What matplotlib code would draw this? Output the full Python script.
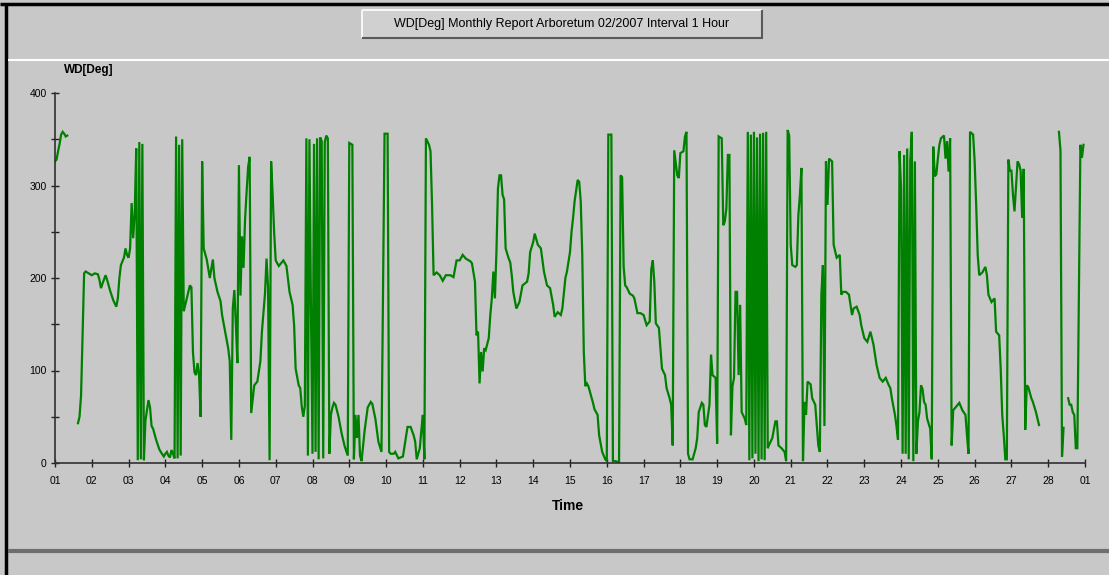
import numpy as np
import matplotlib
matplotlib.use("Agg")
import matplotlib.pyplot as plt
from matplotlib.patches import Rectangle
from matplotlib.lines import Line2D

nan = np.nan

# hour offset from 01/02/2007 00:00 and wind direction in degrees (nan = no data)
hours = [0, 1, 2, 3, 4, 5, 6, 7, 8, 9,
         15, 16, 17, 18, 19, 20, 22, 24, 26, 28, 29, 30, 31, 33, 34, 36, 38, 40, 41, 42,
         43, 45, 46, 47, 48, 49, 50, 51, 52, 53, 54, 55, 56, 57, 58, 59, 61, 62, 63, 64,
         66, 68, 69, 71, 72, 73, 74, 75, 76, 77, 78, 79, 80, 81, 82, 83, 84, 86, 88, 89,
         90, 91, 92, 93, 94, 95, 96, 97, 99, 101, 103, 104, 106, 108, 109, 111, 113, 114, 115, 116,
         117, 118, 119, 120, 121, 122, 123, 124, 125, 126, 127, 128, 130, 132, 134, 135, 137, 138, 139, 140,
         141, 142, 143, 144, 146, 149, 151, 153, 155, 156, 157, 159, 160, 161, 162, 163, 164, 165, 166, 167,
         168, 169, 170, 171, 172, 173, 174, 175, 176, 177, 178, 179, 180, 181, 182, 183, 185, 187, 189, 191,
         192, 194, 195, 196, 197, 198, 199, 200, 202, 204, 206, 207, 209, 211, 213, 214, 215, 217, 218, 219,
         221, 222, 224, 227, 230, 232, 234, 235, 236, 238, 239, 240, 241, 242, 244, 245, 246, 247, 249, 251,
         253, 255, 258, 260, 262, 264, 266, 268, 271, 272, 274, 275, 276, 277, 278, 279, 280, 281, 283, 284,
         285, 286, 287, 288, 289, 290, 291, 292, 293, 294, 296, 297, 298, 299, 301, 303, 305, 308, 309, 310,
         312, 313, 315, 317, 319, 321, 323, 325, 326, 328, 330, 331, 333, 334, 336, 337, 338, 339, 341, 342,
         343, 344, 345, 346, 347, 348, 349, 351, 352, 354, 355, 357, 359, 360, 361, 363, 364, 366, 368, 369,
         370, 371, 372, 373, 375, 377, 378, 380, 382, 384, 386, 388, 389, 390, 391, 392, 394, 396, 398, 399,
         401, 402, 403, 404, 405, 406, 407, 408, 410, 411, 412, 413, 414, 416, 418, 419, 420, 422, 423, 424,
         425, 427, 428, 429, 431, 432, 433, 435, 436, 437, 438, 439, 440, 441, 442, 443, 444, 445, 446, 447,
         448, 450, 451, 452, 453, 454, 455, 456, 457, 458, 459, 460, 461, 462, 463, 464, 465, 466, 468, 470,
         471, 472, 474, 476, 477, 478, 479, 480, 481, 483, 484, 485, 486, 487, 488, 489, 490, 491, 493, 494,
         496, 497, 498, 499, 500, 501, 502, 503, 504, 505, 507, 508, 510, 512, 513, 514, 516, 518, 520, 521,
         523, 525, 526, 528, 530, 532, 534, 536, 538, 540, 542, 544, 545, 546, 548, 549, 550, 551, 552, 553,
         554, 555, 556, 557, 558, 559, 560, 561, 562, 563, 564, 565, 566, 567, 568, 569, 571, 572, 573, 574,
         575, 576, 577, 578, 580, 581, 582, 583, 584, 585, 586, 587, 589, 590, 592, 594, 595, 596, 597, 599,
         600, 601, 602, 603, 605, 607, 608, 609, 611, 613, 614, 616, 617, 618, 619, 620, 621, 622, 623, 624,
         625, 626, 627, 628, 629, 630, 631, 632, 633, 634, 635, 637, 638, 640, 641, 642, 643,
         655, 656, 657, 658, 659,
         661, 662, 663, 664, 665, 666, 667, 668, 669, 670, 671]

wd_deg = [326, 328, 337, 345, 355, 358, 356, 353, 354, nan,
          43, 50, 73, 138, 205, 207, 205, 203, 205, 204, 198, 189, 194, 203, 198, 186, 176, 169, 178, 200,
          214, 222, 232, 225, 222, 232, 281, 243, 270, 340, 3, 347, 4, 345, 3, 46, 68, 60, 40, 37,
          25, 15, 12, 7, 10, 12, 8, 6, 14, 10, 5, 353, 5, 344, 8, 350, 164, 178, 192, 190,
          120, 98, 95, 108, 95, 50, 326, 232, 220, 200, 220, 200, 185, 175, 160, 142, 124, 110, 25, 167,
          187, 150, 108, 322, 181, 245, 211, 263, 293, 320, 331, 54, 84, 88, 110, 142, 183, 221, 190, 3,
          326, 290, 248, 219, 213, 219, 213, 185, 171, 149, 102, 84, 81, 61, 50, 62, 351, 8, 350, 166,
          10, 345, 12, 351, 4, 352, 348, 5, 347, 354, 351, 10, 52, 60, 65, 63, 50, 32, 18, 8,
          346, 344, 4, 52, 27, 52, 8, 2, 35, 60, 66, 64, 48, 23, 12, 185, 356, 356, 12, 10,
          10, 12, 5, 7, 39, 39, 30, 23, 4, 16, 35, 52, 4, 351, 344, 337, 279, 203, 206, 203,
          197, 203, 203, 201, 219, 219, 225, 221, 218, 216, 196, 138, 142, 86, 120, 99, 124, 122, 135, 160,
          178, 207, 178, 228, 297, 311, 311, 290, 285, 232, 221, 217, 203, 185, 167, 174, 192, 196, 205, 228,
          239, 248, 236, 232, 207, 192, 189, 171, 158, 163, 160, 167, 200, 207, 228, 250, 265, 283, 306, 304,
          283, 225, 120, 83, 86, 83, 77, 65, 58, 52, 30, 12, 4, 2, 355, 355, 2, 2, 0, 311,
          309, 212, 192, 190, 183, 181, 178, 162, 162, 160, 149, 153, 209, 219, 196, 151, 146, 102, 95, 81,
          70, 63, 19, 338, 324, 311, 308, 335, 337, 353, 358, 10, 4, 4, 16, 27, 55, 65, 63, 41,
          39, 63, 117, 95, 92, 21, 353, 351, 257, 261, 275, 333, 333, 30, 83, 92, 185, 185, 95, 171,
          55, 48, 41, 358, 3, 355, 5, 358, 10, 352, 2, 356, 4, 357, 3, 358, 16, 20, 27, 45,
          45, 19, 16, 12, 2, 360, 354, 236, 214, 212, 214, 268, 290, 319, 2, 66, 52, 88, 85, 70,
          63, 41, 19, 12, 182, 214, 40, 326, 279, 329, 326, 236, 222, 225, 182, 185, 185, 182, 160, 167,
          169, 160, 149, 135, 131, 142, 128, 106, 92, 88, 92, 84, 81, 70, 52, 40, 25, 337, 297, 10,
          333, 10, 340, 4, 326, 358, 2, 326, 10, 45, 55, 84, 80, 66, 63, 48, 37, 4, 342, 310,
          312, 329, 344, 351, 354, 329, 348, 315, 351, 19, 57, 59, 63, 65, 57, 52, 30, 10, 358, 355,
          326, 279, 225, 203, 206, 212, 203, 182, 174, 178, 142, 138, 102, 52, 30, 4, 4, 328, 316, 316,
          290, 272, 300, 326, 323, 316, 265, 318, 36, 84, 82, 70, 66, 55, 48, 41, nan,
          358, 338, 7, 38, nan,
          70, 63, 63, 55, 52, 16, 16, 178, 344, 330, 344]

day_labels = ["%02d" % d for d in range(1, 29)] + ["01"]
y_labels = ["0", "100", "200", "300", "400"]
title = "WD[Deg] Monthly Report Arboretum 02/2007 Interval 1 Hour"

W, H = 1109, 575
bg = "#c8c8c8"
plt.rcParams["font.family"] = ["Liberation Sans", "DejaVu Sans"]

fig = plt.figure(figsize=(W / 100, H / 100), dpi=100, facecolor=bg)


def fx(x):
    return x / W


def fy(y):
    return 1 - y / H


def hline(x0, x1, y, color, lw):
    fig.add_artist(Line2D([fx(x0), fx(x1)], [fy(y), fy(y)], color=color, lw=lw,
                          transform=fig.transFigure, solid_capstyle="butt"))


def vline(x, y0, y1, color, lw):
    fig.add_artist(Line2D([fx(x), fx(x)], [fy(y0), fy(y1)], color=color, lw=lw,
                          transform=fig.transFigure, solid_capstyle="butt"))


# window frame
hline(0, W, 4, "black", 2.5)
vline(6, 3, H, "black", 2.5)
hline(8, W, 60, "white", 1.5)
hline(8, W, 551, "#6e6e6e", 3)

# raised title box
fig.add_artist(Rectangle((fx(362), fy(38)), fx(762) - fx(362), fy(10) - fy(38),
                         transform=fig.transFigure, facecolor="#d0d0d0", edgecolor="none"))
hline(362, 762, 10, "white", 1.2)
vline(362, 10, 38, "white", 1.2)
hline(362, 763, 38, "#5a5a5a", 1.5)
vline(762, 10, 38, "#5a5a5a", 1.5)
fig.text(fx(562), fy(24), title, ha="center", va="center", fontsize=9, color="black")

ax = fig.add_axes([fx(55), fy(463), fx(1085) - fx(55), fy(93) - fy(463)])
ax.set_facecolor(bg)
ax.plot(hours, wd_deg, color="#008000", lw=1.6, solid_joinstyle="miter")

ax.set_xlim(0, 672)
ax.set_ylim(0, 400)
ax.set_xticks(np.arange(0, 673, 24))
ax.set_xticklabels(day_labels, fontsize=7.5)
ax.set_yticks([0, 100, 200, 300, 400])
ax.set_yticklabels(y_labels, fontsize=7.5)
ax.set_yticks([50, 150, 250, 350], minor=True)
ax.tick_params(axis="both", which="both", direction="inout", length=6, width=1, color="#202020")
ax.tick_params(axis="x", pad=6)
ax.tick_params(axis="y", pad=3)
for side in ["top", "right"]:
    ax.spines[side].set_visible(False)
for side in ["left", "bottom"]:
    ax.spines[side].set_color("#303030")
    ax.spines[side].set_linewidth(1.2)

fig.text(fx(64), fy(70), "WD[Deg]", fontsize=8.5, fontweight="bold", ha="left", va="center")
fig.text(fx(568), fy(506), "Time", fontsize=10, fontweight="bold", ha="center", va="center")

fig.savefig("out.png", dpi=100, facecolor=bg)
